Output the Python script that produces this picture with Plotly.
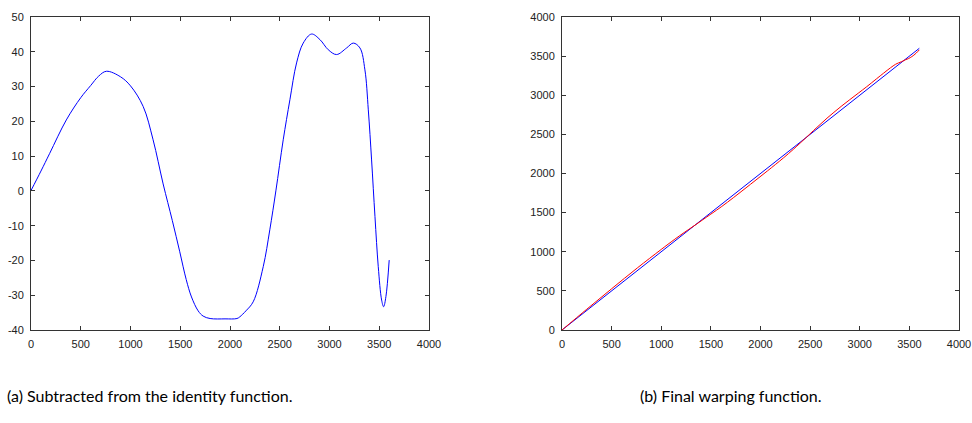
import plotly.graph_objects as go

# Left panel: warp minus identity
diff_x = [0, 100, 188, 355, 500, 600, 680, 758, 900, 1000, 1127, 1227, 1328, 1420, 1495,
          1560, 1613, 1680, 1730, 1800, 1950, 2070, 2099, 2160, 2233, 2334, 2400, 2461, 2535, 2602,
          2669, 2736, 2820, 2904, 2987, 3071, 3172, 3239, 3306, 3356, 3390, 3423, 3457,
          3490, 3524, 3544, 3567, 3600]
diff_y = [0.1, 5.7, 10.8, 20.4, 26.8, 30.3, 33.0, 34.4, 32.8, 30.2, 24.3, 14.7, 2.0, -8.5, -17.5,
          -25.5, -30.5, -34.5, -36.0, -36.7, -36.8, -36.7, -36.2, -34.5, -31.9, -21.8, -11.2, 0.0, 14.7, 26.2,
          36.8, 42.5, 45.1, 43.5, 40.6, 39.2, 41.1, 42.5, 41.1, 34.8, 23.3, 8.9, -7.4,
          -21.8, -31.4, -33.3, -30.4, -19.9]

# Right panel: identity (blue) and final warping function (red)
ident_x = [0, 3600]
ident_y = [0, 3600]
warp_x = [0, 250, 500, 758, 1000, 1130, 1230, 1330, 1500, 1610, 1730, 1900, 2070, 2230,
          2330, 2400, 2460, 2535, 2600, 2670, 2740, 2820, 2900, 2990, 3070, 3170, 3240,
          3310, 3360, 3390, 3420, 3460, 3490, 3525, 3545, 3570, 3600]
warp_y = [0, 266, 527, 792, 1030, 1154, 1245, 1331, 1481, 1579, 1694, 1863, 2033, 2198,
          2308, 2389, 2460, 2550, 2626, 2707, 2782, 2865, 2944, 3031, 3109, 3211, 3282,
          3351, 3395, 3413, 3429, 3453, 3468, 3494, 3512, 3540, 3580]

left_yticks = [-40, -30, -20, -10, 0, 10, 20, 30, 40, 50]
left_ytext = ["-40", "-30", "-20", "-10", "0", "10", "20", "30", "40", "50"]
right_yticks = [0, 500, 1000, 1500, 2000, 2500, 3000, 3500, 4000]
xticks = [0, 500, 1000, 1500, 2000, 2500, 3000, 3500, 4000]

captions = ["(a) Subtracted from the identity function.", "(b) Final warping function."]

W, H = 972, 423
fig = go.Figure()
fig.add_trace(go.Scatter(x=diff_x, y=diff_y, mode="lines", line=dict(color="#0000ff", width=1, shape="spline"),
                         xaxis="x", yaxis="y", showlegend=False))
fig.add_trace(go.Scatter(x=ident_x, y=ident_y, mode="lines", line=dict(color="#0000ff", width=1),
                         xaxis="x2", yaxis="y2", showlegend=False))
fig.add_trace(go.Scatter(x=warp_x, y=warp_y, mode="lines", line=dict(color="#ff0000", width=1, shape="spline"),
                         xaxis="x2", yaxis="y2", showlegend=False))

ydom = [(H - 330) / H, (H - 17) / H]
axcommon = dict(showline=True, linecolor="#333333", linewidth=1, mirror="allticks", ticks="inside",
                ticklen=4, tickcolor="#333333", showgrid=False, zeroline=False, automargin=False,
                ticklabelstandoff=4,
                tickfont=dict(family="Liberation Sans", size=11, color="#222222"))

fig.update_layout(
    width=W, height=H, margin=dict(l=0, r=0, t=0, b=0, autoexpand=False),
    plot_bgcolor="white", paper_bgcolor="white",
    xaxis=dict(domain=[31 / W, 429 / W], range=[0, 4000], tickvals=xticks, anchor="y", **axcommon),
    yaxis=dict(domain=ydom, range=[-40, 50], tickvals=left_yticks, ticktext=left_ytext, anchor="x", **axcommon),
    xaxis2=dict(domain=[562 / W, 959 / W], range=[0, 4000], tickvals=xticks, anchor="y2", **axcommon),
    yaxis2=dict(domain=ydom, range=[0, 4000], tickvals=right_yticks, anchor="x2", **axcommon),
)

capfont = dict(family="Lato, sans-serif", size=16, color="black")
fig.add_annotation(text=captions[0], xref="paper", yref="paper", x=6 / W, y=(H - 395) / H,
                   xanchor="left", yanchor="middle", showarrow=False, font=capfont, borderpad=0)
fig.add_annotation(text=captions[1], xref="paper", yref="paper", x=639 / W, y=(H - 395) / H,
                   xanchor="left", yanchor="middle", showarrow=False, font=capfont, borderpad=0)

fig.write_html("out.html", config={"displayModeBar": False},
               post_script="document.body.style.margin='0px';document.body.style.overflow='hidden';")
